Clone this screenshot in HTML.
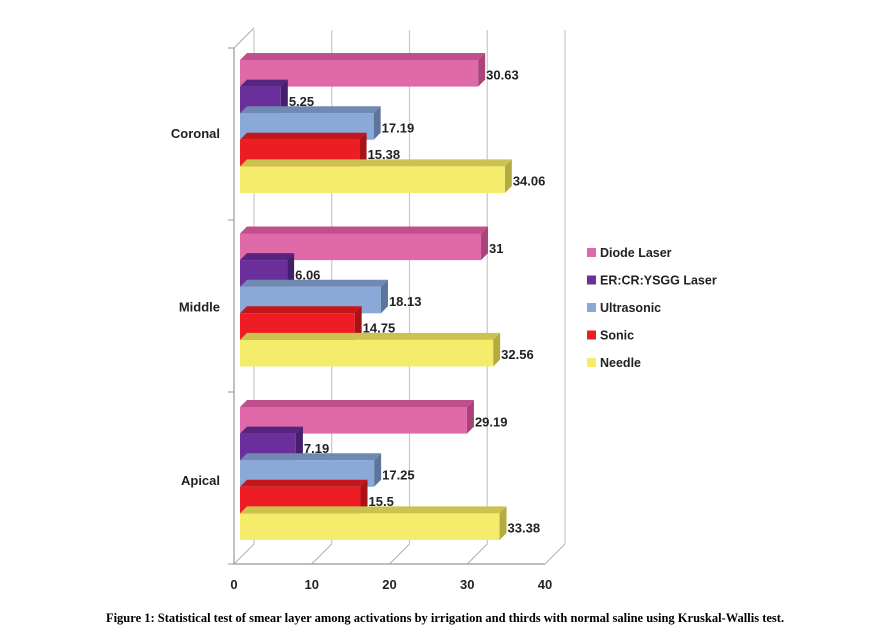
<!DOCTYPE html>
<html><head><meta charset="utf-8"><style>
html,body{margin:0;padding:0;background:#fff;}
svg text{font-family:"Liberation Sans",sans-serif;}
</style></head><body>
<svg id="chart" width="891" height="638" xmlns="http://www.w3.org/2000/svg">
<g id="grid"></g>
<g id="bars"></g>
<g id="labels"></g>
<g id="legend"></g>
<text x="445" y="622" text-anchor="middle" style="font-family:'Liberation Serif',serif;font-weight:bold;font-size:12.5px">Figure 1: Statistical test of smear layer among activations by irrigation and thirds with normal saline using Kruskal-Wallis test.</text>
</svg>
<script>
const categories = ["Coronal","Middle","Apical"];
const seriesNames = ["Diode Laser","ER:CR:YSGG Laser","Ultrasonic","Sonic","Needle"];
const diodeLaser = [30.63, 31, 29.19];
const erLaser = [5.25, 6.06, 7.19];
const ultrasonic = [17.19, 18.13, 17.25];
const sonic = [15.38, 14.75, 15.5];
const needle = [34.06, 32.56, 33.38];
const valueLabels = [["30.63","31","29.19"],["5.25","6.06","7.19"],["17.19","18.13","17.25"],["15.38","14.75","15.5"],["34.06","32.56","33.38"]];
const xTicks = [0,10,20,30,40];

const series = [diodeLaser, erLaser, ultrasonic, sonic, needle];
const colors = [["#e06aa9","#c0508d","#a9437a"],["#6a2f9a","#57257f","#45206a"],["#8aa8d8","#6f89b3","#5d759c"],["#ee1d23","#c4161b","#a61418"],["#f6ec6c","#cbc24f","#b4ab40"]];
const NS="http://www.w3.org/2000/svg";
const x0=234, pxPer=7.775, dx=20, dy=20, floorY=564, topY=48;
const bdx=7, bdy=7, barH=26.6, barX0=240;
function xs(v){return x0+v*pxPer;}
function groupTop(c){return 60+c*173.5;}
function mk(tag,attrs,parent){const e=document.createElementNS(NS,tag);for(const k in attrs)e.setAttribute(k,attrs[k]);parent.appendChild(e);return e;}
const grid=document.getElementById('grid');
xTicks.forEach((t,i)=>{
  const l=mk('line',{x1:xs(t)+dx,y1:topY-dy+2,x2:xs(t)+dx,y2:floorY-dy,stroke:'#c8c8c8','stroke-width':1.2},grid);
  
  
  const f=mk('line',{x1:xs(t),y1:floorY,x2:xs(t)+dx,y2:floorY-dy,stroke:'#b0b0b0','stroke-width':1},grid);
  
  
  const tx=mk('text',{x:xs(t),y:floorY+25,'text-anchor':'middle','font-size':'13px','font-weight':'bold',fill:'#222'},grid);
  tx.textContent=t;
  
  
});
const ax=mk('line',{x1:x0,y1:topY,x2:x0,y2:floorY,stroke:'#999','stroke-width':1.2},grid);


const ax2=mk('line',{x1:x0,y1:floorY,x2:xs(40),y2:floorY,stroke:'#999','stroke-width':1.2},grid);


mk('line',{x1:x0,y1:topY,x2:x0+dx,y2:topY-dy,stroke:'#aaa'},grid);
[48,220,392,564].forEach(y=>{mk('line',{x1:x0-6,y1:y,x2:x0,y2:y,stroke:'#999'},grid);});
const bars=document.getElementById('bars'), labels=document.getElementById('labels');
categories.forEach((cat,c)=>{
  const t=mk('text',{x:220,y:groupTop(c)+78,'text-anchor':'end','font-size':'13px','font-weight':'bold',fill:'#222'},labels);
  t.textContent=cat;
  
  
  series.forEach((s,i)=>{
    const y=groupTop(c)+i*barH, xe=barX0+s[c]*pxPer;
    const g=mk('g',{},bars);
    
    
    mk('polygon',{points:`${barX0},${y} ${barX0+bdx},${y-bdy} ${xe+bdx},${y-bdy} ${xe},${y}`,fill:colors[i][1]},g);
    mk('polygon',{points:`${xe},${y} ${xe+bdx},${y-bdy} ${xe+bdx},${y+barH-bdy} ${xe},${y+barH}`,fill:colors[i][2]},g);
    mk('rect',{x:barX0,y:y,width:xe-barX0,height:barH,fill:colors[i][0]},g);
    const v=mk('text',{x:xe+bdx+1,y:y+barH/2+6,'font-size':'13px','font-weight':'bold',fill:'#222'},labels);
    v.textContent=valueLabels[i][c];
    
    
  });
});
const lg=document.getElementById('legend');
seriesNames.forEach((n,i)=>{
  const y=253+i*27.5;
  const g=mk('g',{},lg);
  
  
  mk('rect',{x:587,y:y-5,width:9,height:9,fill:colors[i][0]},g);
  const t=mk('text',{x:600,y:y+4,'font-size':'12.5px','font-weight':'bold',fill:'#222'},g);
  t.textContent=n;
});
</script>
</body></html>
